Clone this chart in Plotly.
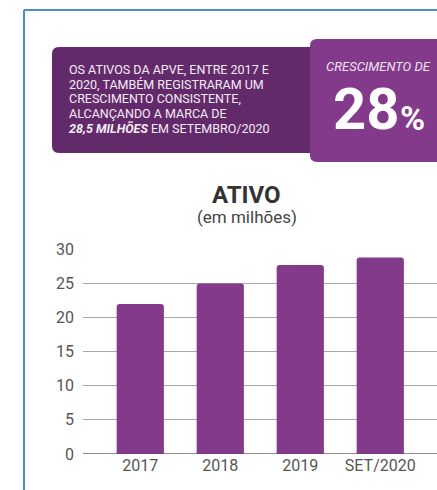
import plotly.graph_objects as go

categories = ["2017", "2018", "2019", "SET/2020"]
values = [22.0, 25.0, 27.7, 28.8]
y_ticks = [0, 5, 10, 15, 20, 25, 30]

W, H = 437, 490
FONT = "Roboto"
DARK = "#632a6b"
LIGHT = "#843a8b"
BAR = "#843a8b"


def X(px):
    return px / W


def Y(py):
    return 1 - py / H


def rrect(x0, y0, x1, y1, r):
    pts = [
        ("M", [(x0 + r, y0)]),
        ("L", [(x1 - r, y0)]),
        ("Q", [(x1, y0), (x1, y0 + r)]),
        ("L", [(x1, y1 - r)]),
        ("Q", [(x1, y1), (x1 - r, y1)]),
        ("L", [(x0 + r, y1)]),
        ("Q", [(x0, y1), (x0, y1 - r)]),
        ("L", [(x0, y0 + r)]),
        ("Q", [(x0, y0), (x0 + r, y0)]),
    ]
    s = ""
    for cmd, ps in pts:
        s += cmd + " " + " ".join(f"{X(a):.5f},{Y(b):.5f}" for a, b in ps) + " "
    return s + "Z"


fig = go.Figure()
fig.add_trace(go.Bar(
    x=categories, y=values,
    marker=dict(color=BAR, cornerradius=3, line=dict(width=0)),
    hoverinfo="skip",
))

YTOP = 30.1
PX_PER_UNIT = (454 - 249.3) / 30.0

fig.update_layout(
    template="none",
    width=W, height=H,
    margin=dict(l=0, r=0, t=0, b=0, pad=0),
    paper_bgcolor="white", plot_bgcolor="white",
    showlegend=False,
    bargap=0.41,
    font=dict(family=FONT, color="#555555", size=16),
    xaxis=dict(
        type="category",
        domain=[X(83), 1],
        range=[-0.716, 3.709],
        automargin=False,
        showgrid=False, zeroline=False, showline=False, ticks="",
        tickfont=dict(size=16, color="#555555"),
        fixedrange=True,
    ),
    yaxis=dict(
        domain=[Y(454), Y(454 - YTOP * PX_PER_UNIT)],
        range=[0, YTOP],
        tickvals=y_ticks,
        automargin=False,
        showgrid=True, gridcolor="#a8a8a8", gridwidth=1,
        zeroline=True, zerolinecolor="#8a8a8a", zerolinewidth=1,
        showline=False, ticks="",
        ticklabelstandoff=8,
        tickfont=dict(size=16, color="#555555"),
        fixedrange=True,
    ),
)

shapes = [
    # blue frame
    dict(type="line", xref="paper", yref="paper", x0=X(24), y0=Y(10), x1=X(440), y1=Y(10),
         line=dict(color="#4a90c8", width=2)),
    dict(type="line", xref="paper", yref="paper", x0=X(24), y0=Y(10), x1=X(24), y1=Y(495),
         line=dict(color="#4a90c8", width=2)),
    # boxes
    dict(type="path", xref="paper", yref="paper", path=rrect(52, 47, 320, 153, 7),
         fillcolor=DARK, line=dict(width=0), layer="below"),
    dict(type="path", xref="paper", yref="paper", path=rrect(310, 39, 450, 162, 7),
         fillcolor=LIGHT, line=dict(width=0), layer="below"),
]
fig.update_layout(shapes=shapes)

lines = [
    "OS ATIVOS DA APVE, ENTRE 2017 E",
    "2020, TAMBÉM REGISTRARAM UM",
    "CRESCIMENTO CONSISTENTE,",
    "ALCANÇANDO A MARCA DE",
    "<b><i>28,5 MILHÕES</i></b> EM SETEMBRO/2020",
]
line_y = [69.8, 84.4, 99.0, 113.6, 128.2]
ann = []
for t, yy in zip(lines, line_y):
    ann.append(dict(text=t, x=X(68), y=Y(yy), xref="paper", yref="paper",
                    xanchor="left", yanchor="middle", showarrow=False, borderpad=0,
                    font=dict(family=FONT, size=12.5, color="#f3ecf4")))

ann += [
    dict(text="<i>CRESCIMENTO DE</i>", x=X(378), y=Y(66), xref="paper", yref="paper",
         xanchor="center", yanchor="middle", showarrow=False, borderpad=0,
         font=dict(family=FONT, size=13, color="#eee2f0")),
    dict(text="<b>28</b>", x=X(401), y=Y(109), xref="paper", yref="paper",
         xanchor="right", yanchor="middle", showarrow=False, borderpad=0,
         font=dict(family=FONT, size=58, color="white")),
    dict(text="<b>%</b>", x=X(399), y=Y(118), xref="paper", yref="paper",
         xanchor="left", yanchor="middle", showarrow=False, borderpad=0,
         font=dict(family=FONT, size=34, color="white")),
    dict(text="<b>ATIVO</b>", x=X(247), y=Y(195), xref="paper", yref="paper",
         xanchor="center", yanchor="middle", showarrow=False,
         font=dict(family=FONT, size=24, color="#333333")),
    dict(text="(em milhões)", x=X(247), y=Y(217), xref="paper", yref="paper",
         xanchor="center", yanchor="middle", showarrow=False,
         font=dict(family=FONT, size=17, color="#444444")),
]
fig.update_layout(annotations=ann)

fig.write_html(
    "out.html",
    config={"displayModeBar": False},
    post_script="document.body.style.margin='0';document.body.style.overflow='hidden';",
)
